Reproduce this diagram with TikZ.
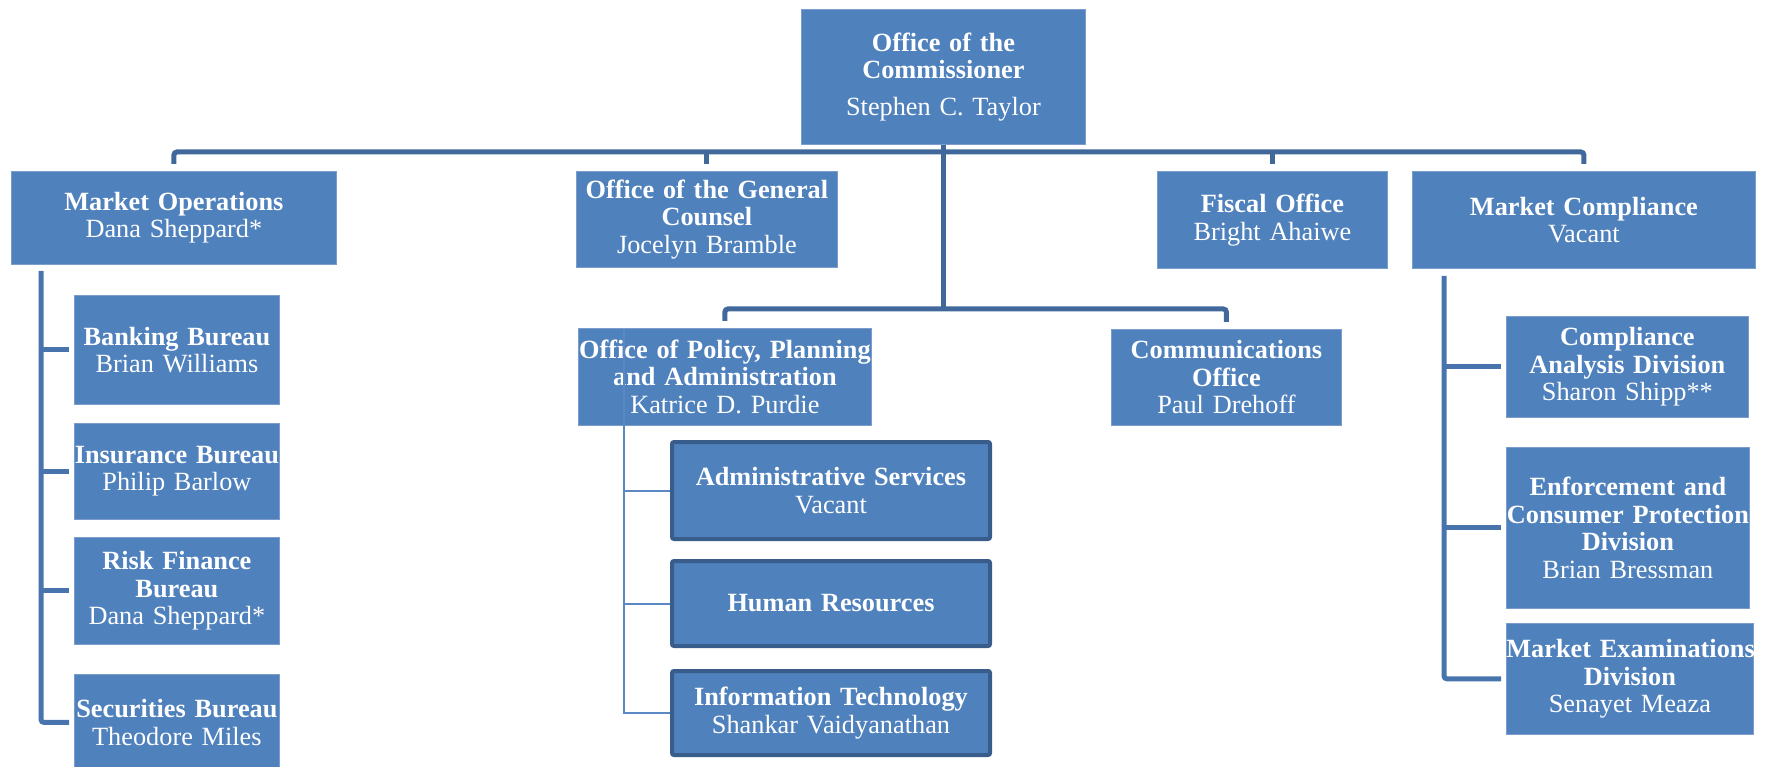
\documentclass[tikz,border=0pt]{standalone}
\usepackage{fontspec}
\setmainfont{Liberation Serif}
\definecolor{boxblue}{HTML}{4F81BD}
\definecolor{boxedge}{HTML}{7C9DCB}
\definecolor{busblue}{HTML}{41689B}
\definecolor{stemblue}{HTML}{4874AD}
\definecolor{subedge}{HTML}{385D8A}
\definecolor{thinblue}{HTML}{5A88C4}
\begin{document}
\begin{tikzpicture}[x=1pt,y=-1pt,
	unit/.style={draw=boxedge, line width=0.8pt, fill=boxblue, text=white, align=center,
		anchor=north west, inner sep=0pt, font=\fontsize{26.3}{27.5}\selectfont},
	subunit/.style={unit, draw=subedge, line width=4pt, rounded corners=2pt},
	bus/.style={busblue, line width=5pt, rounded corners=3pt},
	stem/.style={stemblue, line width=5pt, rounded corners=3pt},
	thinstem/.style={thinblue, line width=2pt}]
		\useasboundingbox (0,0) rectangle (1767,767);
		\node[unit, text width=284pt, minimum height=135pt] (comm) at (801,9) {\textbf{Office of the}\\\textbf{Commissioner}\\[9pt]Stephen C. Taylor};
		\node[unit, text width=325pt, minimum height=93pt] (mo) at (11,171) {\textbf{Market Operations}\\Dana Sheppard*};
		\node[unit, text width=261pt, minimum height=96pt] (gc) at (576,171) {\textbf{Office of the General}\\\textbf{Counsel}\\Jocelyn Bramble};
		\node[unit, text width=230pt, minimum height=97pt] (fo) at (1157,171) {\textbf{Fiscal Office}\\Bright Ahaiwe};
		\node[unit, text width=343pt, minimum height=97pt] (mc) at (1412,171) {\textbf{Market Compliance}\\Vacant};
		\node[unit, text width=205pt, minimum height=109pt] (bb) at (74,295) {\textbf{Banking Bureau}\\Brian Williams};
		\node[unit, text width=205pt, minimum height=96pt] (ib) at (74,423) {\mbox{\textbf{Insurance Bureau}}\\Philip Barlow};
		\node[unit, text width=205pt, minimum height=107pt] (rf) at (74,537) {\textbf{Risk Finance}\\\textbf{Bureau}\\Dana Sheppard*};
		\node[unit, text width=205pt, minimum height=96pt] (sb) at (74,674) {\mbox{\textbf{Securities Bureau}}\\Theodore Miles};
		\node[unit, text width=293pt, minimum height=97pt] (ppa) at (578,328) {\textbf{Office of Policy, Planning}\\\textbf{and Administration}\\Katrice D. Purdie};
		\node[unit, text width=230pt, minimum height=96pt] (co) at (1111,329) {\textbf{Communications}\\\textbf{Office}\\Paul Drehoff};
		\node[subunit, text width=318pt, minimum height=97pt] (adm) at (670,440) {\textbf{Administrative Services}\\Vacant};
		\node[subunit, text width=318pt, minimum height=85pt] (hr) at (670,559) {\textbf{Human Resources}};
		\node[subunit, text width=318pt, minimum height=84pt] (it) at (670,669) {\textbf{Information Technology}\\Shankar Vaidyanathan};
		\node[unit, text width=242pt, minimum height=101pt] (ca) at (1506,316) {\textbf{Compliance}\\\textbf{Analysis Division}\\Sharon Shipp**};
		\node[unit, text width=243pt, minimum height=161pt] (ec) at (1506,447) {\textbf{Enforcement and}\\\mbox{\textbf{Consumer Protection}}\\\textbf{Division}\\Brian Bressman};
		\node[unit, text width=247pt, minimum height=111pt] (me) at (1506,623) {\mbox{\textbf{Market Examinations}}\\\textbf{Division}\\Senayet Meaza};
		\coordinate (topbus) at (0,152);
		\coordinate (midbus) at (0,309);
		\draw[bus] ([yshift=7pt]mo.north) |- (topbus -| mc.north) -- ([yshift=7pt]mc.north);
		\draw[bus] (gc.north |- topbus) -- ([yshift=7pt]gc.north);
		\draw[bus] (fo.north |- topbus) -- ([yshift=7pt]fo.north);
		\draw[bus] (comm.south) -- (comm.south |- midbus);
		\draw[bus] ([yshift=7pt]ppa.north) |- (midbus -| co.north) -- ([yshift=7pt]co.north);
		\coordinate (mostem) at ([xshift=30pt,yshift=-6pt]mo.south west);
		\draw[stem] (mostem) |- ([xshift=-5pt]sb.west);
		\foreach \n in {bb,ib,rf}
			\draw[stem] (mostem |- \n.west) -- ([xshift=-5pt]\n.west);
		\coordinate (mcstem) at ([xshift=32pt,yshift=-7pt]mc.south west);
		\draw[stem] (mcstem) |- ([xshift=-5pt]me.west);
		\foreach \n in {ca,ec}
			\draw[stem] (mcstem |- \n.west) -- ([xshift=-5pt]\n.west);
		\coordinate (ppastem) at ([xshift=46pt,yshift=-2pt]ppa.north west);
		\draw[thinstem] (ppastem) |- (it.west);
		\foreach \n in {adm,hr}
			\draw[thinstem] (ppastem |- \n.west) -- (\n.west);
\end{tikzpicture}
\end{document}
